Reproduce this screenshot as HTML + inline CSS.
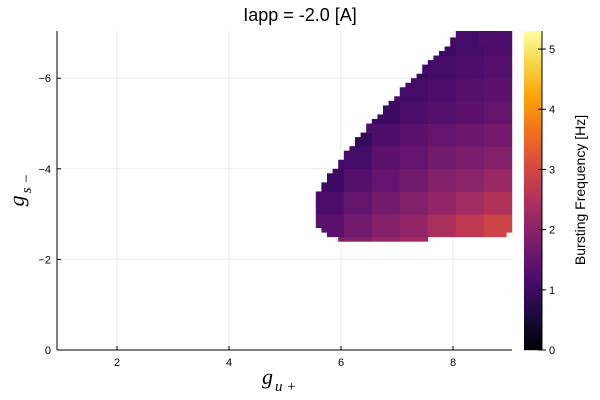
<!DOCTYPE html>
<html><head><meta charset="utf-8"><style>
body{margin:0;background:#fff;}
svg{display:block;font-family:"Liberation Sans",sans-serif;}
</style></head><body>
<svg id="chart" width="600" height="400" xmlns="http://www.w3.org/2000/svg">
<text x="300" y="21" text-anchor="middle" font-size="18" fill="#000">Iapp = -2.0 [A]</text>
<g id="grid"></g>
<g id="cells"></g>
<g id="axes"></g>
<text x="262" y="384" font-family="Liberation Serif,serif" font-style="italic" font-size="22">g<tspan font-size="15" dy="7" dx="2">u +</tspan></text>
<text transform="translate(24,190) rotate(-90)" text-anchor="middle" font-family="Liberation Serif,serif" font-style="italic" font-size="22">g<tspan font-size="15" dy="7" dx="2">s −</tspan></text>
<g id="cbar"></g>
<text transform="translate(585,190) rotate(-90)" text-anchor="middle" font-size="14">Bursting Frequency [Hz]</text>
</svg>
<script>
// data
const xTicks = [2, 4, 6, 8];
const yTicks = [0, -2, -4, -6];
const cbTicks = [0, 1, 2, 3, 4, 5];
const rowG = [2.4,2.5,2.6,2.7,2.8,2.9,3.0,3.1,3.2,3.3,3.4,3.5,3.6,3.7,3.8,3.9,4.0,4.1,4.2,4.3,4.4,4.5,4.6,4.7,4.8,4.9,5.0,5.1,5.2,5.3,5.4,5.5,5.6,5.7,5.8,5.9,6.0,6.1,6.2,6.3,6.4,6.5,6.6,6.7,6.8,6.9,7.0];
const rowStart = [5.95,5.75,5.65,5.55,5.55,5.55,5.55,5.55,5.55,5.55,5.55,5.65,5.65,5.75,5.75,5.85,5.95,5.95,6.05,6.05,6.15,6.25,6.25,6.35,6.45,6.45,6.55,6.65,6.75,6.75,6.85,6.95,7.05,7.05,7.15,7.25,7.35,7.45,7.45,7.55,7.65,7.75,7.85,7.95,7.95,8.05,8.05];
const rowEnd = [7.55,8.95,9.05,9.05,9.05,9.05,9.05,9.05,9.05,9.05,9.05,9.05,9.05,9.05,9.05,9.05,9.05,9.05,9.05,9.05,9.05,9.05,9.05,9.05,9.05,9.05,9.05,9.05,9.05,9.05,9.05,9.05,9.05,9.05,9.05,9.05,9.05,9.05,9.05,9.05,9.05,9.05,9.05,9.05,9.05,9.05,9.05];
// coarse frequency blocks: rows of 0.5 in |g_s| starting 2.0, cols of 0.5 in g_u starting 5.5
const freqBlocks = [
 [1.7,1.9,2.1,2.3,2.6,2.9,3.1],
 [1.4,1.7,1.9,2.1,2.4,2.7,2.9],
 [1.2,1.5,1.7,1.9,2.1,2.3,2.5],
 [1.0,1.3,1.5,1.7,1.9,2.0,2.2],
 [0.8,1.1,1.4,1.5,1.7,1.8,1.9],
 [0.8,0.9,1.2,1.4,1.5,1.6,1.7],
 [0.8,0.8,1.0,1.2,1.3,1.4,1.5],
 [0.7,0.7,0.8,1.1,1.2,1.3,1.4],
 [0.7,0.7,0.7,0.9,1.1,1.2,1.3],
 [0.6,0.6,0.6,0.8,1.0,1.1,1.2]
];
const vmax = 5.3;

const L=57,R=512,T=31,B=350;
const xs = v => 117 + (v-2)*56;
const ys = v => 350 + v*45.3;
const cs = v => 350 - v*(319/vmax);
const NS='http://www.w3.org/2000/svg';
function mk(tag, attrs, parent){const e=document.createElementNS(NS,tag);for(const k in attrs)e.setAttribute(k,attrs[k]);parent.appendChild(e);return e;}
const stops=[[0,0,0,4],[0.1,22,11,57],[0.2,66,10,104],[0.3,106,23,110],[0.4,147,38,103],[0.5,188,55,84],[0.6,221,81,58],[0.7,243,120,25],[0.8,252,165,10],[0.9,246,215,70],[1,252,255,164]];
function inferno(t){t=Math.max(0,Math.min(1,t));for(let i=1;i<stops.length;i++){if(t<=stops[i][0]){const a=stops[i-1],b=stops[i],f=(t-a[0])/(b[0]-a[0]);return `rgb(${Math.round(a[1]+f*(b[1]-a[1]))},${Math.round(a[2]+f*(b[2]-a[2]))},${Math.round(a[3]+f*(b[3]-a[3]))})`;}}return 'rgb(252,255,164)';}

const grid=document.getElementById('grid');
xTicks.forEach(v=>{const l=mk('line',{x1:xs(v),x2:xs(v),y1:T,y2:B,stroke:'#ebebeb','stroke-width':1},grid);

});
yTicks.forEach(v=>{const l=mk('line',{x1:L,x2:R,y1:ys(v),y2:ys(v),stroke:'#ebebeb','stroke-width':1},grid);

});

const cells=document.getElementById('cells');
rowG.forEach((g,i)=>{
  const yTop=Math.max(T, ys(-(g+0.1))), yBot=ys(-g);
  if(yBot<=T) return;
  const br=Math.min(freqBlocks.length-1,Math.floor((g-2.0)/0.5+1e-6));
  for(let x=rowStart[i]; x<rowEnd[i]-1e-6; x+=0.1){
    const xe=Math.min(x+0.1,rowEnd[i]);
    const bc=Math.max(0,Math.min(6,Math.floor((x+0.05-5.5)/0.5)));
    const v=freqBlocks[br][bc];
    const r=mk('rect',{x:xs(x).toFixed(2),y:yTop.toFixed(2),width:(xs(xe)-xs(x)+0.4).toFixed(2),height:(yBot-yTop+0.4).toFixed(2),fill:inferno(v/vmax)},cells);
    
    
  }
});

const ax=document.getElementById('axes');
mk('line',{x1:L,x2:R,y1:B,y2:B,stroke:'#000','stroke-width':1},ax);
mk('line',{x1:L,x2:L,y1:T,y2:B,stroke:'#000','stroke-width':1},ax);
xTicks.forEach(v=>{mk('line',{x1:xs(v),x2:xs(v),y1:B,y2:B-4,stroke:'#000'},ax);
const t=mk('text',{x:xs(v),y:B+16,'text-anchor':'middle','font-size':11},ax);t.textContent=v;

});
yTicks.forEach(v=>{mk('line',{x1:L,x2:L+4,y1:ys(v),y2:ys(v),stroke:'#000'},ax);
const t=mk('text',{x:L-6,y:ys(v)+4,'text-anchor':'end','font-size':11},ax);t.textContent=v===0?'0':'\u2212'+Math.abs(v);

});

const cb=document.getElementById('cbar');
for(let p=T;p<B;p++){const v=(B-p-0.5)/(B-T)*vmax;mk('rect',{x:524,y:p,width:18,height:1.2,fill:inferno(v/vmax)},cb);}
mk('line',{x1:542,x2:542,y1:T,y2:B,stroke:'#000'},cb);
cbTicks.forEach(v=>{mk('line',{x1:538,x2:546,y1:cs(v),y2:cs(v),stroke:'#000'},cb);
const t=mk('text',{x:549,y:cs(v)+4,'font-size':11},cb);t.textContent=v;

});
</script>
</body></html>
